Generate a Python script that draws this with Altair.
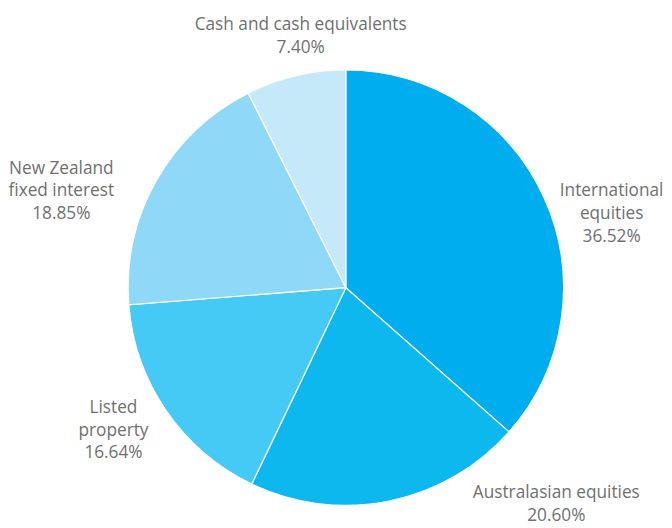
import math
import altair as alt
import pandas as pd

categories = ["International\nequities", "Australasian equities", "Listed\nproperty",
              "New Zealand\nfixed interest", "Cash and cash equivalents"]
values = [36.52, 20.60, 16.64, 18.85, 7.40]
value_labels = ["36.52%", "20.60%", "16.64%", "18.85%", "7.40%"]
colors = ["#00AEEF", "#0DB8EF", "#45C9F5", "#8FD8F8", "#C6E9FA"]

# layout (pixels, relative to the pie centre)
CX, CY, R = 338, 280, 221
LH = 23
label_angle = [74.5, 135.9, 238.4, 288.7, 349.8]
label_dist = [280, 307, 277, 305, 259]

df = pd.DataFrame({
    "cat": categories,
    "value": values,
    "idx": list(range(len(values))),
    "label": [c + "\n" + v for c, v in zip(categories, value_labels)],
})
nlines = [lab.count("\n") + 1 for lab in df["label"]]
df["lx"] = [CX + d * math.sin(math.radians(a)) for a, d in zip(label_angle, label_dist)]
df["ly"] = [CY - d * math.cos(math.radians(a)) - (n - 1) * LH / 2
            for a, d, n in zip(label_angle, label_dist, nlines)]

pie = alt.Chart(df).mark_arc(stroke="white", strokeWidth=1.2, radius=R).encode(
    theta=alt.Theta("value:Q", stack=True),
    order=alt.Order("idx:Q"),
    color=alt.Color("cat:N", scale=alt.Scale(domain=categories, range=colors), legend=None),
    x=alt.value(CX),
    y=alt.value(CY),
)

text = alt.Chart(df).mark_text(
    lineBreak="\n", align="center", baseline="middle", fontSize=17.5,
    lineHeight=LH, font="Open Sans", color="#707070",
).encode(
    x=alt.X("lx:Q", scale=None),
    y=alt.Y("ly:Q", scale=None),
    text="label:N",
)

chart = alt.layer(pie, text).properties(
    width=650, height=505, padding=0
).configure_view(stroke=None)

chart.save("out.html", embed_options={"renderer": "svg", "actions": False})
